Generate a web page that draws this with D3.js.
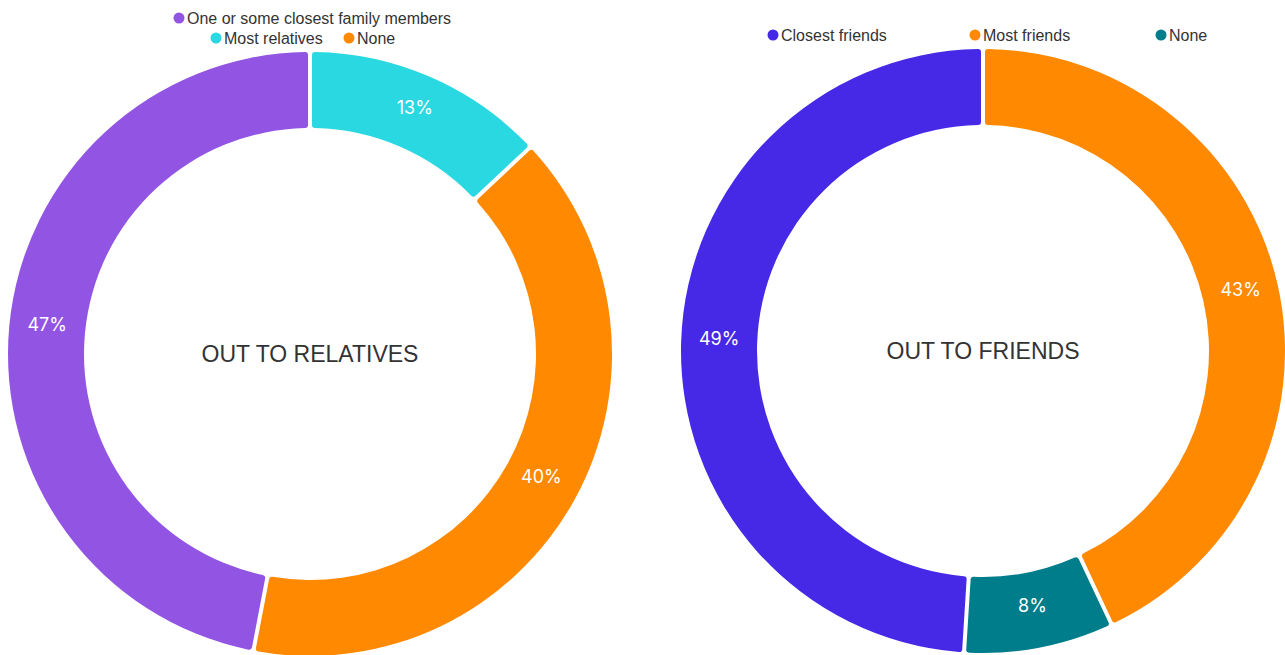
<!DOCTYPE html>
<html>
<head>
<meta charset="utf-8">
<script src="https://cdn.jsdelivr.net/npm/d3@7"></script>
<style>
  body { margin: 0; background: #fff; }
  text { font-family: "Liberation Sans", Arial, sans-serif; }
</style>
</head>
<body>
<div id="chart"></div>
<script>
const width = 1285;
const height = 655;

// left chart
const relCategories = ["Most relatives", "None", "One or some closest family members"];
const relValues = [13, 40, 47];
const relColors = ["#2ad8e2", "#ff8900", "#9254e3"];
const relLegend = ["One or some closest family members", "Most relatives", "None"];

// right chart
const friCategories = ["Most friends", "None", "Closest friends"];
const friValues = [43, 8, 49];
const friColors = ["#ff8900", "#007d8a", "#4629e6"];
const friLegend = ["Closest friends", "Most friends", "None"];

const outerR = 302;
const innerR = 226;

const svg = d3.select("#chart")
    .append("svg")
    .attr("width", width)
    .attr("height", height);

const pie = d3.pie().sort(null).value(d => d.value);

const arc = d3.arc()
    .innerRadius(innerR)
    .outerRadius(outerR)
    .padAngle(4 / outerR)
    .padRadius(outerR)
    .cornerRadius(3);

const labelArc = d3.arc()
    .innerRadius((innerR + outerR) / 2)
    .outerRadius((innerR + outerR) / 2);

function donut(cx, cy, cats, vals, colors, title) {
    const data = cats.map((c, i) => ({name: c, value: vals[i], color: colors[i]}));
    const g = svg.append("g")
        .attr("transform", "translate(" + cx + "," + cy + ")");

    const arcs = pie(data);

    g.selectAll(".slice")
        .data(arcs)
        .enter()
        .append("path")
        .attr("class", "slice")
        .attr("d", arc)
        .style("fill", d => d.data.color);

    g.selectAll(".label")
        .data(arcs)
        .enter()
        .append("text")
        .attr("transform", d => "translate(" + labelArc.centroid(d) + ")")
        .attr("text-anchor", "middle")
        .attr("dy", ".12em")
        .style("font-family", "Inter, sans-serif")
        .style("font-size", "18px")
        .style("fill", "#fff")
        .text(d => d.data.value + "%");

    g.append("text")
        .attr("text-anchor", "middle")
        .attr("dy", ".35em")
        .style("font-size", "23px")
        .style("fill", "#333")
        .text(title);
}

donut(310, 354, relCategories, relValues, relColors, "OUT TO RELATIVES");
donut(983, 351, friCategories, friValues, friColors, "OUT TO FRIENDS");

function legendRow(items, colorOf, xs, y) {
    const g = svg.append("g");
    const item = g.selectAll(".lg")
        .data(items)
        .enter()
        .append("g")
        .attr("transform", (d, i) => "translate(" + xs[i] + "," + y + ")");
    item.append("circle")
        .attr("cx", 0)
        .attr("cy", 0)
        .attr("r", 5.5)
        .style("fill", d => colorOf(d));
    item.append("text")
        .attr("x", 8)
        .attr("dy", ".35em")
        .style("font-size", "16px")
        .style("fill", "#333")
        .text(d => d);
}

const relColor = d3.scaleOrdinal().domain(relCategories).range(relColors);
const friColor = d3.scaleOrdinal().domain(friCategories).range(friColors);

legendRow([relLegend[0]], relColor, [179], 18);
legendRow(relLegend.slice(1), relColor, [216, 349], 38);
legendRow(friLegend, friColor, [773, 975, 1161], 35);
</script>
</body>
</html>
